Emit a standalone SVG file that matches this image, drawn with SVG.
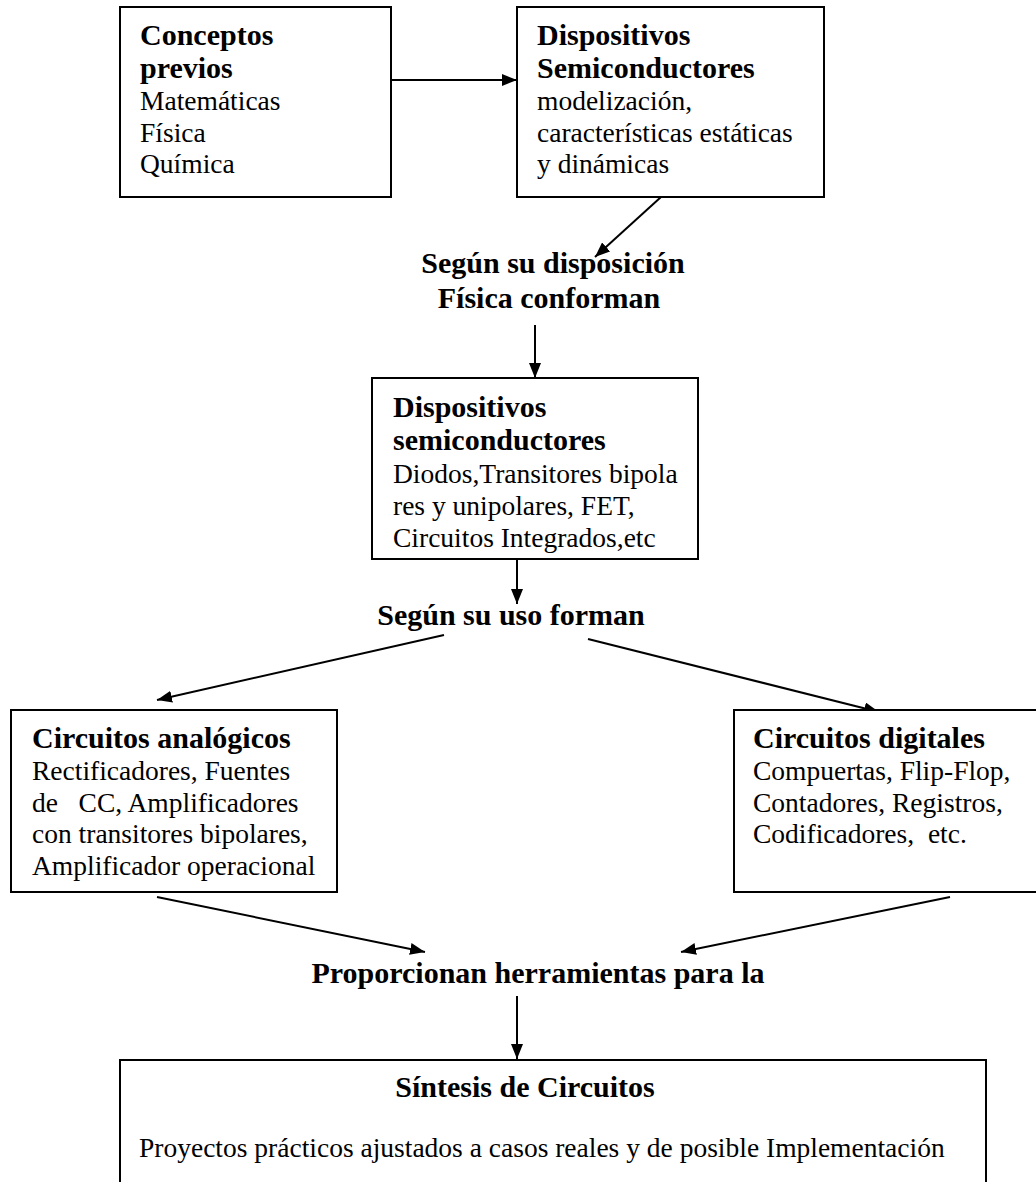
<svg xmlns="http://www.w3.org/2000/svg" width="1036" height="1182" viewBox="0 0 1036 1182">
<style>
text{font-family:"Liberation Serif","Times New Roman",serif;fill:#000;white-space:pre}
.b{font-weight:bold;font-size:30px}
.r{font-size:27.5px}
.c{text-anchor:middle}
rect{fill:#fff;stroke:#000;stroke-width:2}
line{stroke:#000;stroke-width:2}
</style>
<defs>
<marker id="ah" markerUnits="userSpaceOnUse" markerWidth="16" markerHeight="12" refX="15" refY="6" orient="auto">
<path d="M0,0 L15,6 L0,12 z" fill="#000"/>
</marker>
</defs>
<rect x="0" y="0" width="1036" height="1182" style="stroke:none"/>
<g id="connectors">
<line x1="391" y1="80" x2="517" y2="80" marker-end="url(#ah)"/>
<line x1="661" y1="197" x2="595" y2="257" marker-end="url(#ah)"/>
<line x1="535" y1="325" x2="535" y2="378" marker-end="url(#ah)"/>
<line x1="517" y1="559" x2="517" y2="604" marker-end="url(#ah)"/>
<line x1="444" y1="635" x2="157" y2="700" marker-end="url(#ah)"/>
<line x1="588" y1="639" x2="879" y2="712" marker-end="url(#ah)"/>
<line x1="157" y1="897" x2="425" y2="952" marker-end="url(#ah)"/>
<line x1="950" y1="897" x2="681" y2="952" marker-end="url(#ah)"/>
<line x1="517" y1="996" x2="517" y2="1059" marker-end="url(#ah)"/>
</g>
<g id="conceptos">
<rect x="120" y="7" width="271" height="190"/>
<text class="b" x="140" y="45">Conceptos</text>
<text class="b" x="140" y="78">previos</text>
<text class="r" x="140" y="110">Matemáticas</text>
<text class="r" x="140" y="142">Física</text>
<text class="r" x="140" y="173">Química</text>
</g>
<g id="dispositivos1">
<rect x="517" y="7" width="307" height="190"/>
<text class="b" x="537" y="45">Dispositivos</text>
<text class="b" x="537" y="78">Semiconductores</text>
<text class="r" x="537" y="110">modelización,</text>
<text class="r" x="537" y="142">características estáticas</text>
<text class="r" x="537" y="173">y dinámicas</text>
</g>
<g id="label-disposicion">
<text class="b c" x="553" y="273">Según su disposición</text>
<text class="b c" x="549" y="308">Física conforman</text>
</g>
<g id="dispositivos2">
<rect x="372" y="378" width="326" height="181"/>
<text class="b" x="393" y="417">Dispositivos</text>
<text class="b" x="393" y="450">semiconductores</text>
<text class="r" x="393" y="483">Diodos,Transitores bipola</text>
<text class="r" x="393" y="515">res y unipolares, FET,</text>
<text class="r" x="393" y="547">Circuitos Integrados,etc</text>
</g>
<g id="label-uso">
<text class="b c" x="511" y="625">Según su uso forman</text>
</g>
<g id="analogicos">
<rect x="11" y="710" width="326" height="182"/>
<text class="b" x="32" y="748">Circuitos analógicos</text>
<text class="r" x="32" y="780">Rectificadores, Fuentes</text>
<text class="r" x="32" y="812">de   CC, Amplificadores</text>
<text class="r" x="32" y="843">con transitores bipolares,</text>
<text class="r" x="32" y="875">Amplificador operacional</text>
</g>
<g id="digitales">
<rect x="734" y="710" width="320" height="182"/>
<text class="b" x="753" y="748">Circuitos digitales</text>
<text class="r" x="753" y="780">Compuertas, Flip-Flop,</text>
<text class="r" x="753" y="812">Contadores, Registros,</text>
<text class="r" x="753" y="843">Codificadores,  etc.</text>
</g>
<g id="label-proporcionan">
<text class="b c" x="538" y="983">Proporcionan herramientas para la</text>
</g>
<g id="sintesis">
<rect x="120" y="1060" width="866" height="140"/>
<text class="b c" x="525" y="1097">Síntesis de Circuitos</text>
<text class="r" x="139" y="1157">Proyectos prácticos ajustados a casos reales y de posible Implementación</text>
</g>
</svg>
